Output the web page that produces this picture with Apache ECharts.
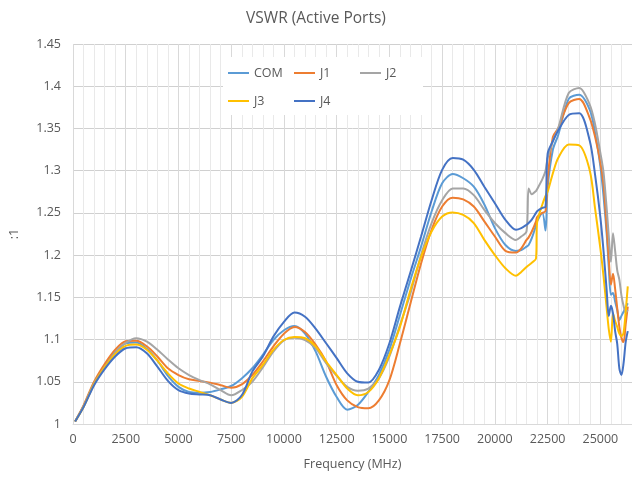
<!DOCTYPE html>
<html>
<head>
<meta charset="utf-8">
<script src="https://cdn.jsdelivr.net/npm/echarts@6/dist/echarts.min.js"></script>
<style>html,body{margin:0;padding:0;background:#fff}#c{width:632px;height:479px}</style>
</head>
<body>
<div id="c"></div>
<script>
var chartTitle = 'VSWR (Active Ports)';
var xName = 'Frequency (MHz)';
var yName = ':1';
var seriesNames = ['COM', 'J1', 'J2', 'J3', 'J4'];
var seriesColors = ['#5B9BD5', '#ED7D31', '#A5A5A5', '#FFC000', '#4472C4'];

var freq = [100, 500, 1000, 1500, 2000, 2500, 3000, 3500, 4000, 4500, 5000, 5500, 6000, 6500, 7000, 7500, 8000, 8500, 9000, 9500, 10000, 10500, 11000, 11500, 12000, 12500, 13000, 13500, 14000, 14500, 15000, 15500, 16000, 16500, 17000, 17500, 18000, 18500, 19000, 19500, 20000, 20500, 21000, 21250, 21500, 21600, 21750, 21950, 22000, 22250, 22400, 22500, 22750, 23000, 23500, 24000, 24500, 24750, 25000, 25150, 25300, 25400, 25500, 25600, 25700, 25800, 25900, 26000, 26100, 26200, 26300];

var COM = [1.003, 1.021, 1.048, 1.068, 1.085, 1.0955, 1.0965, 1.089, 1.075, 1.057, 1.044, 1.038, 1.037, 1.038, 1.041, 1.045, 1.054, 1.066, 1.082, 1.0995, 1.111, 1.116, 1.107, 1.086, 1.056, 1.032, 1.017, 1.0225, 1.038, 1.058, 1.088, 1.129, 1.171, 1.21, 1.2516, 1.285, 1.296, 1.291, 1.281, 1.26, 1.232, 1.212, 1.205, 1.206, 1.21, 1.212, 1.22, 1.235, 1.24, 1.25, 1.229, 1.28, 1.325, 1.342, 1.385, 1.39, 1.372, 1.345, 1.305, 1.27, 1.225, 1.185, 1.153, 1.155, 1.145, 1.135, 1.123, 1.128, 1.133, 1.138, 1.143];

var J1 = [1.003, 1.022, 1.05, 1.071, 1.088, 1.098, 1.0985, 1.092, 1.08, 1.066, 1.058, 1.053, 1.051, 1.049, 1.046, 1.043, 1.047, 1.058, 1.074, 1.092, 1.107, 1.115, 1.109, 1.094, 1.074, 1.046, 1.028, 1.02, 1.0186, 1.028, 1.052, 1.0956, 1.143, 1.19, 1.23, 1.2575, 1.268, 1.266, 1.2575, 1.24, 1.222, 1.205, 1.203, 1.208, 1.218, 1.221, 1.228, 1.24, 1.245, 1.25, 1.252, 1.29, 1.34, 1.35, 1.38, 1.385, 1.362, 1.34, 1.31, 1.283, 1.232, 1.195, 1.165, 1.178, 1.16, 1.137, 1.115, 1.102, 1.097, 1.118, 1.139];

var J2 = [1.003, 1.021, 1.048, 1.067, 1.084, 1.096, 1.1015, 1.0975, 1.088, 1.0765, 1.066, 1.058, 1.052, 1.047, 1.04, 1.034, 1.04, 1.05, 1.067, 1.0857, 1.099, 1.102, 1.0995, 1.09, 1.072, 1.057, 1.044, 1.0395, 1.042, 1.054, 1.08, 1.117, 1.155, 1.2, 1.238, 1.265, 1.279, 1.279, 1.271, 1.2535, 1.238, 1.226, 1.218, 1.222, 1.228, 1.279, 1.272, 1.276, 1.278, 1.29, 1.3, 1.315, 1.335, 1.35, 1.392, 1.398, 1.378, 1.355, 1.321, 1.298, 1.255, 1.222, 1.192, 1.226, 1.205, 1.182, 1.171, 1.152, 1.14, 1.132, 1.135];

var J3 = [1.003, 1.02, 1.047, 1.067, 1.083, 1.0925, 1.094, 1.088, 1.075, 1.06, 1.048, 1.042, 1.038, 1.034, 1.029, 1.025, 1.032, 1.054, 1.07, 1.0877, 1.0995, 1.103, 1.1015, 1.092, 1.074, 1.058, 1.042, 1.034, 1.038, 1.054, 1.082, 1.115, 1.159, 1.198, 1.228, 1.2457, 1.2506, 1.2476, 1.238, 1.218, 1.2, 1.1844, 1.1755, 1.18, 1.186, 1.188, 1.191, 1.196, 1.238, 1.26, 1.27, 1.275, 1.297, 1.315, 1.331, 1.33, 1.3, 1.255, 1.208, 1.175, 1.137, 1.112, 1.0975, 1.131, 1.122, 1.115, 1.107, 1.104, 1.108, 1.133, 1.163];

var J4 = [1.003, 1.02, 1.046, 1.065, 1.08, 1.0897, 1.091, 1.0837, 1.068, 1.051, 1.04, 1.036, 1.035, 1.034, 1.029, 1.025, 1.034, 1.062, 1.08, 1.1035, 1.121, 1.132, 1.127, 1.113, 1.0956, 1.078, 1.06, 1.05, 1.049, 1.064, 1.0956, 1.139, 1.18, 1.222, 1.265, 1.301, 1.315, 1.313, 1.301, 1.281, 1.2615, 1.2417, 1.23, 1.232, 1.236, 1.238, 1.242, 1.25, 1.252, 1.256, 1.257, 1.32, 1.335, 1.3475, 1.366, 1.368, 1.335, 1.295, 1.245, 1.205, 1.158, 1.128, 1.14, 1.131, 1.11, 1.095, 1.066, 1.058, 1.072, 1.097, 1.11];

var seriesValues = [COM, J1, J2, J3, J4];

var FONT = 'Open Sans';
var TXT = '#595959';

function pairs(vals) {
  return freq.map(function (f, i) { return [f, vals[i]]; });
}

var legendPos = [[228, 66], [294, 66], [360, 66], [228, 94], [294, 94]];

var chart = echarts.init(document.getElementById('c'), null, { renderer: 'canvas' });
chart.setOption({
  animation: false,
  backgroundColor: '#ffffff',
  title: {
    text: chartTitle, left: 'center', top: 6,
    textStyle: { fontFamily: FONT, fontSize: 15.5, fontWeight: 'normal', color: TXT }
  },
  graphic: [{
    type: 'rect', z: 3, silent: true,
    shape: { x: 223, y: 57, width: 200, height: 58 },
    style: { fill: '#ffffff' }
  }],
  legend: seriesNames.map(function (n, i) {
    return {
      data: [n], left: legendPos[i][0], top: legendPos[i][1], padding: 0,
      icon: 'rect', itemWidth: 21, itemHeight: 2, selectedMode: false, z: 5,
      textStyle: { fontFamily: FONT, fontSize: 12.5, color: TXT, lineHeight: 14 }
    };
  }),
  grid: { left: 70, right: -4, top: 44, bottom: 55, containLabel: false },
  xAxis: {
    type: 'value', min: 0, max: 26500, interval: 2500,
    name: xName, nameLocation: 'middle', nameGap: 34,
    nameTextStyle: { fontFamily: FONT, fontSize: 12.5, color: TXT },
    axisLine: { show: true, lineStyle: { color: '#d9d9d9', width: 1 } },
    axisTick: { show: false },
    axisLabel: {
      fontFamily: FONT, fontSize: 12.5, color: TXT, margin: 9, showMaxLabel: false,
      formatter: function (v) { return String(v); }
    },
    splitLine: { show: true, lineStyle: { color: '#d9d9d9', width: 1 } },
    minorTick: { show: false, splitNumber: 5 },
    minorSplitLine: { show: true, lineStyle: { color: '#e9e9e9', width: 1 } }
  },
  yAxis: {
    type: 'value', min: 1, max: 1.45, interval: 0.05,
    name: yName, nameLocation: 'middle', nameGap: 52, nameRotate: 90,
    nameTextStyle: { fontFamily: FONT, fontSize: 12.5, color: TXT },
    axisLine: { show: false },
    axisTick: { show: false },
    axisLabel: {
      fontFamily: FONT, fontSize: 12.5, color: TXT, margin: 12,
      formatter: function (v) { return String(Math.round(v * 100) / 100); }
    },
    splitLine: { show: true, lineStyle: { color: '#d0d0d0', width: 1 } }
  },
  series: seriesNames.map(function (n, i) {
    return {
      name: n, type: 'line', data: pairs(seriesValues[i]),
      symbol: 'none', smooth: 0.3,
      color: seriesColors[i],
      itemStyle: { color: seriesColors[i] },
      lineStyle: { color: seriesColors[i], width: 2 },
      z: 2
    };
  })
});
</script>
</body>
</html>
